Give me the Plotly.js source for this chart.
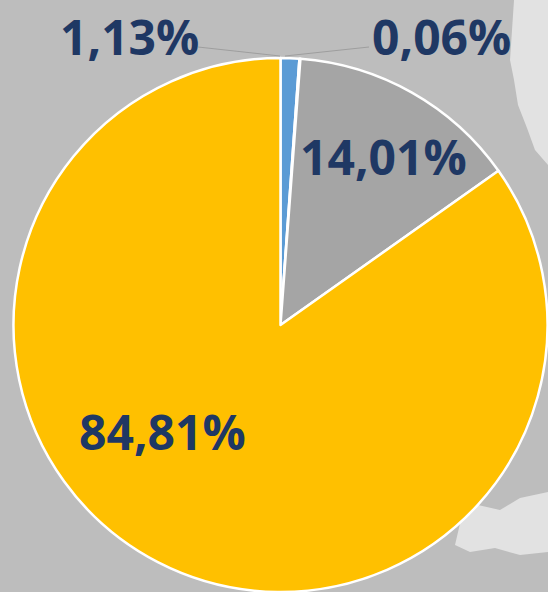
<!DOCTYPE html>
<html>
<head>
<meta charset="utf-8">
<script src="https://cdn.plot.ly/plotly-3.0.1.min.js"></script>
<style>
html,body{margin:0;padding:0;background:#bdbdbd;}
#chart{width:548px;height:592px;}
</style>
</head>
<body>
<div id="chart"></div>
<script>
// Data
var categories = ["A", "B", "C", "D"];
var values = [1.13, 0.06, 14.01, 84.81];
var colors = ["#5B9BD5", "#ED7D31", "#A5A5A5", "#FFC000"];
var labelText = values.map(function(v){ return v.toFixed(2).replace('.', ',') + '%'; });

// Label placement (pixels in the 548x592 page)
var W = 548, H = 592;
var labelPos = [[129, 36], [441, 36], [383, 157], [162, 431]];

var annotations = labelText.map(function(t, i){
  return {
    xref: 'paper', yref: 'paper',
    x: labelPos[i][0] / W, y: 1 - labelPos[i][1] / H,
    xanchor: 'center', yanchor: 'middle',
    text: t, showarrow: false,
    font: {family: '"Open Sans", Lato, sans-serif', size: 48, color: '#1F3864', weight: 'bold'}
  };
});

function px(x){ return x / W; }
function py(y){ return 1 - y / H; }

var shapes = [
  // background map patches
  {type:'path', xref:'paper', yref:'paper', layer:'below',
   path: 'M '+px(514)+','+py(0)+' L '+px(548)+','+py(0)+' L '+px(548)+','+py(165)+' L '+px(535)+','+py(150)+' L '+px(527)+','+py(128)+' L '+px(518)+','+py(105)+' L '+px(514)+','+py(80)+' L '+px(510)+','+py(60)+' L '+px(512)+','+py(30)+' Z',
   fillcolor:'#e2e2e2', line:{width:0}},
  {type:'path', xref:'paper', yref:'paper', layer:'below',
   path: 'M '+px(455)+','+py(545)+' L '+px(462)+','+py(515)+' L '+px(478)+','+py(505)+' L '+px(500)+','+py(510)+' L '+px(520)+','+py(498)+' L '+px(548)+','+py(492)+' L '+px(548)+','+py(552)+' L '+px(520)+','+py(555)+' L '+px(495)+','+py(548)+' L '+px(470)+','+py(552)+' Z',
   fillcolor:'#e2e2e2', line:{width:0}},
  // leader lines
  {type:'line', xref:'paper', yref:'paper', x0:px(198), y0:py(47), x1:px(280), y1:py(56),
   line:{color:'#9e9e9e', width:1}},
  {type:'line', xref:'paper', yref:'paper', x0:px(369), y0:py(47), x1:px(285), y1:py(56),
   line:{color:'#9e9e9e', width:1}}
];

var trace = {
  type: 'pie',
  labels: categories,
  values: values,
  sort: false,
  direction: 'clockwise',
  rotation: 0,
  marker: {colors: colors, line: {color: '#ffffff', width: 2.5}},
  textinfo: 'none',
  hoverinfo: 'none',
  showlegend: false,
  domain: {x: [13 / W, 1], y: [0, 1 - 58 / H]}
};

var layout = {
  width: W, height: H,
  margin: {l: 0, r: 0, t: 0, b: 0},
  paper_bgcolor: '#bdbdbd',
  plot_bgcolor: '#bdbdbd',
  showlegend: false,
  annotations: annotations,
  shapes: shapes
};

Plotly.newPlot('chart', [trace], layout, {staticPlot: true, displayModeBar: false});
</script>
</body>
</html>
